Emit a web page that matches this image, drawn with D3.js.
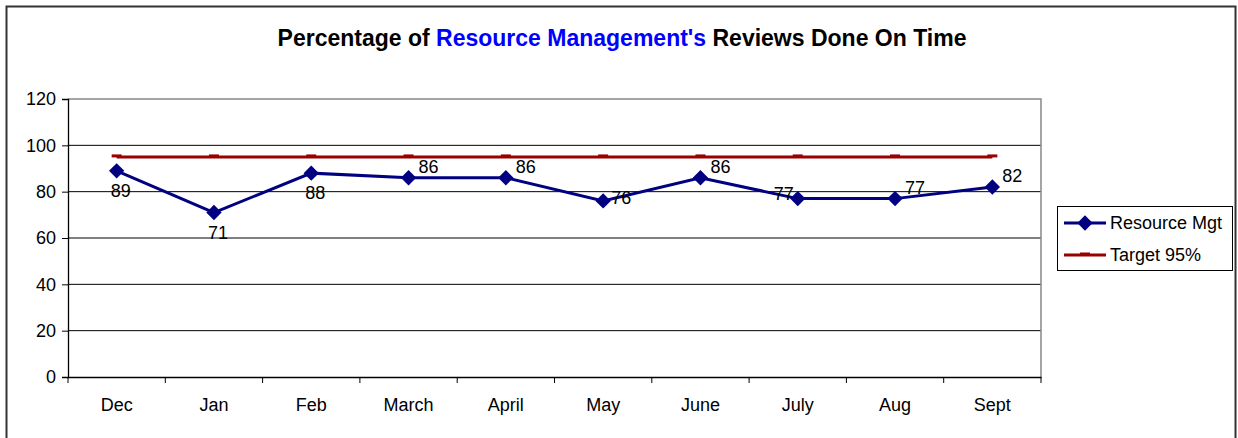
<!DOCTYPE html>
<html>
<head>
<meta charset="utf-8">
<script src="https://cdn.jsdelivr.net/npm/d3@7"></script>
<style>
body { margin:0; background:#fff; }
text { font-family: "Liberation Sans", Arial, sans-serif; }
</style>
</head>
<body>
<svg id="chart"></svg>
<script>
// chart values
var months = ["Dec","Jan","Feb","March","April","May","June","July","Aug","Sept"];
var resourceMgt = [89,71,88,86,86,76,86,77,77,82];
var target = [95,95,95,95,95,95,95,95,95,95];
var yTicks = [0,20,40,60,80,100,120];
var seriesNames = ["Resource Mgt","Target 95%"];

// where each data label sits relative to its point
var labelSpots = ["below","below","below","upright","upright","right","upright","left","upright","upright"];

var screen = {width:1238, height:438};
var margins = {top:99, bottom:61, left:68, right:197};
var graph = {
    width:screen.width-margins.left-margins.right,
    height:screen.height-margins.top-margins.bottom
};

var svg = d3.select("#chart")
    .attr("width",screen.width)
    .attr("height",screen.height);

// outer frame
svg.append("rect")
    .attr("x",6.5).attr("y",6.5)
    .attr("width",1229).attr("height",440)
    .attr("fill","none")
    .attr("stroke","#333")
    .attr("stroke-width",2);

// title
var title = svg.append("text")
    .attr("x",622).attr("y",46)
    .attr("text-anchor","middle")
    .attr("font-size","23px")
    .attr("font-weight","bold");
title.append("tspan").text("Percentage of ");
title.append("tspan").attr("fill","#0000ff").text("Resource Management's");
title.append("tspan").text(" Reviews Done On Time");

var xScale = d3.scaleBand()
    .domain(months)
    .range([0,graph.width]);

var yScale = d3.scaleLinear()
    .domain([0,120])
    .range([graph.height,0]);

var g = svg.append("g")
    .attr("transform","translate("+margins.left+","+margins.top+")");

// gridlines
g.selectAll(".grid")
    .data(yTicks.filter(function(t){return t>0 && t<120;}))
    .enter()
    .append("line")
    .attr("x1",0).attr("x2",graph.width)
    .attr("y1",function(d){return yScale(d);})
    .attr("y2",function(d){return yScale(d);})
    .attr("stroke","#000")
    .attr("stroke-width",1);

// plot border top/right in gray
g.append("path")
    .attr("d","M0,0H"+graph.width+"V"+graph.height)
    .attr("fill","none")
    .attr("stroke","#888")
    .attr("stroke-width",1.5);

// axes
var yAxis = d3.axisLeft(yScale).tickValues(yTicks).tickSize(6).tickPadding(6);
var yG = g.append("g").call(yAxis);
yG.select(".domain").attr("stroke","#000").attr("stroke-width",1.3);
yG.selectAll("text").attr("font-size","18px").attr("fill","#000")
    .attr("font-family","Liberation Sans, Arial, sans-serif");

var xAxis = d3.axisBottom(xScale).tickSize(0).tickPadding(21);
var xG = g.append("g")
    .attr("transform","translate(0,"+graph.height+")")
    .call(xAxis);
xG.select(".domain").attr("stroke","#000").attr("stroke-width",1.3);
xG.selectAll("text").attr("font-size","18px").attr("fill","#000")
    .attr("font-family","Liberation Sans, Arial, sans-serif");

// category separator ticks
xG.selectAll(".sep")
    .data(d3.range(months.length+1))
    .enter()
    .append("line")
    .attr("x1",function(i){return i*xScale.bandwidth();})
    .attr("x2",function(i){return i*xScale.bandwidth();})
    .attr("y1",0).attr("y2",6)
    .attr("stroke","#000");

var cx = function(i){ return xScale(months[i])+xScale.bandwidth()/2; };

var line = d3.line()
    .x(function(d,i){return cx(i);})
    .y(function(d){return yScale(d);});

// target line
g.append("path")
    .datum(target)
    .attr("d",line)
    .attr("fill","none")
    .attr("stroke","#990000")
    .attr("stroke-width",3);

g.selectAll(".tmark")
    .data(target)
    .enter()
    .append("rect")
    .attr("x",function(d,i){return cx(i)-5;})
    .attr("y",function(d){return yScale(d)-2.5;})
    .attr("width",10).attr("height",3)
    .attr("fill","#990000");

// resource line
g.append("path")
    .datum(resourceMgt)
    .attr("d",line)
    .attr("fill","none")
    .attr("stroke","#000080")
    .attr("stroke-width",3);

var diamond = d3.symbol().type(d3.symbolDiamond2).size(150);

g.selectAll(".pt")
    .data(resourceMgt)
    .enter()
    .append("path")
    .attr("d",diamond)
    .attr("transform",function(d,i){return "translate("+cx(i)+","+yScale(d)+")";})
    .attr("fill","#000080");

// data labels
var spotOffset = {
    below:{dx:4,dy:26,anchor:"middle"},
    upright:{dx:10,dy:-5,anchor:"start"},
    right:{dx:8,dy:3,anchor:"start"},
    left:{dx:-4,dy:1,anchor:"end"}
};

g.selectAll(".lbl")
    .data(resourceMgt)
    .enter()
    .append("text")
    .attr("x",function(d,i){return cx(i)+spotOffset[labelSpots[i]].dx;})
    .attr("y",function(d,i){return yScale(d)+spotOffset[labelSpots[i]].dy;})
    .attr("text-anchor",function(d,i){return spotOffset[labelSpots[i]].anchor;})
    .attr("font-size","18px")
    .attr("fill","#000")
    .text(function(d){return d;});

// legend
var legend = svg.append("g").attr("transform","translate(1057,206)");
legend.append("rect")
    .attr("x",0.5).attr("y",0.5)
    .attr("width",175).attr("height",64)
    .attr("fill","#fff")
    .attr("stroke","#000");

legend.append("line")
    .attr("x1",7).attr("x2",49).attr("y1",17).attr("y2",17)
    .attr("stroke","#000080").attr("stroke-width",3);
legend.append("path")
    .attr("d",diamond)
    .attr("transform","translate(28,17)")
    .attr("fill","#000080");
legend.append("line")
    .attr("x1",7).attr("x2",49).attr("y1",49).attr("y2",49)
    .attr("stroke","#990000").attr("stroke-width",3);
legend.append("rect")
    .attr("x",23).attr("y",46.5).attr("width",10).attr("height",3)
    .attr("fill","#990000");

legend.selectAll(".ltxt")
    .data(seriesNames)
    .enter()
    .append("text")
    .attr("x",53)
    .attr("y",function(d,i){return 23+i*32;})
    .attr("font-size","18px")
    .attr("fill","#000")
    .text(function(d){return d;});
</script>
</body>
</html>
